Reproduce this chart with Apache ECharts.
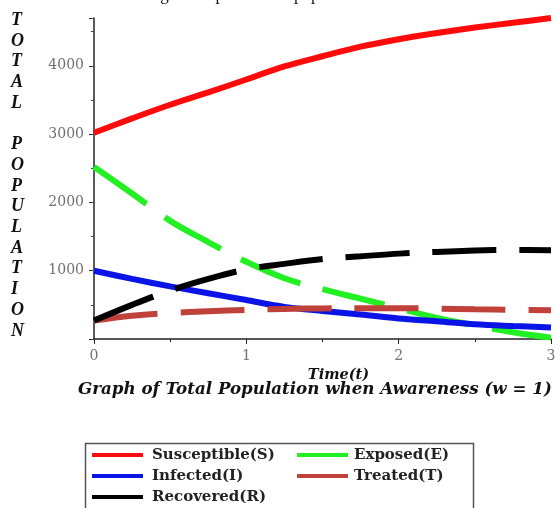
<!DOCTYPE html>
<html>
<head>
<meta charset="utf-8">
<script src="https://cdn.jsdelivr.net/npm/echarts@6/dist/echarts.min.js"></script>
<style>
  html, body { margin: 0; padding: 0; background: #fff; }
  #chart { width: 559px; height: 508px; }
</style>
</head>
<body>
<div id="chart"></div>
<script>
// Time grid (t) and compartment sizes of the awareness model, w = 1
var times = [0, 0.25, 0.5, 0.75, 1, 1.25, 1.5, 1.75, 2, 2.25, 2.5, 2.75, 3];
var susceptible = [3020, 3230, 3430, 3610, 3800, 3990, 4140, 4280, 4390, 4480, 4560, 4630, 4700];
var exposed     = [2520, 2130, 1730, 1420, 1130, 890, 730, 590, 450, 310, 200, 100, 20];
var infected    = [1000, 880, 770, 670, 570, 470, 410, 360, 300, 260, 215, 190, 170];
var treated     = [270, 340, 380, 405, 425, 440, 448, 450, 450, 445, 435, 428, 420];
var recovered   = [270, 500, 710, 880, 1020, 1100, 1170, 1210, 1250, 1275, 1295, 1305, 1300];

var seriesNames = ['Susceptible(S)', 'Exposed(E)', 'Infected(I)', 'Treated(T)', 'Recovered(R)'];

var xTicks = [0, 1, 2, 3];
var yTicks = [1000, 2000, 3000, 4000];

function pairs(vals) {
  return times.map(function (t, i) { return [t, vals[i]]; });
}

var SERIF = '"Liberation Serif", "DejaVu Serif", serif';
var WIDE_SERIF = '"DejaVu Serif", "Liberation Serif", serif';
var DASH = [64, 23];
var COLORS = ['#ff0a0a', '#22f022', '#0a14e6', '#c0403a', '#000000'];
var DASHED = [false, true, false, true, true];
var VALUES = [susceptible, exposed, infected, treated, recovered];

function lineSeries(i) {
  return {
    name: seriesNames[i],
    type: 'line',
    data: pairs(VALUES[i]),
    smooth: 0.35,
    showSymbol: false,
    symbol: 'none',
    color: COLORS[i],
    lineStyle: { color: COLORS[i], width: 6, type: DASHED[i] ? DASH : 'solid', cap: 'butt' },
    z: 3
  };
}

// Key box: two columns (S, I, R | E, T), each entry a solid swatch plus its label
var keySlots = [[0, 0], [1, 0], [0, 1], [1, 1], [0, 2]];
var keyGraphics = [];
seriesNames.forEach(function (name, i) {
  var col = keySlots[i][0], row = keySlots[i][1];
  var sx = col === 0 ? 92 : 297;
  var cy = 455 + row * 21;
  keyGraphics.push({
    type: 'rect',
    shape: { x: sx, y: cy - 2, width: 51, height: 4 },
    style: { fill: COLORS[i] },
    z: 5
  });
  keyGraphics.push({
    type: 'text',
    x: sx + (col === 0 ? 60 : 57), y: cy,
    style: {
      text: name,
      font: 'bold 15px ' + WIDE_SERIF,
      fill: '#222',
      verticalAlign: 'middle'
    },
    z: 5
  });
});

var chart = echarts.init(document.getElementById('chart'), null, { renderer: 'canvas' });

chart.setOption({
  backgroundColor: '#ffffff',
  animation: false,
  grid: { left: 94, right: 8, top: 18, bottom: 169, containLabel: false },
  xAxis: {
    type: 'value',
    min: 0, max: 3, interval: 1,
    axisLine: { show: true, lineStyle: { color: '#222', width: 1.5 } },
    axisTick: { show: true, length: 5, lineStyle: { color: '#222' } },
    minorTick: { show: true, splitNumber: 2, length: 3, lineStyle: { color: '#222' } },
    splitLine: { show: false },
    axisLabel: {
      fontFamily: WIDE_SERIF, fontSize: 14, color: '#707070', margin: 10,
      formatter: function (v) { return xTicks.indexOf(v) >= 0 ? String(v) : ''; }
    },
    name: 'Time(t)',
    nameLocation: 'middle',
    nameGap: 29,
    nameTextStyle: {
      fontFamily: WIDE_SERIF, fontSize: 14.5, fontWeight: 'bold', fontStyle: 'italic',
      color: '#111', padding: [0, 0, 0, 32]
    }
  },
  yAxis: [{
    type: 'value',
    min: 0, max: 4700, interval: 1000,
    axisLine: { show: true, lineStyle: { color: '#222', width: 1.5 } },
    axisTick: { show: true, length: 5, lineStyle: { color: '#222' } },
    splitLine: { show: false },
    axisLabel: {
      fontFamily: WIDE_SERIF, fontSize: 14, color: '#707070', margin: 10,
      formatter: function (v) { return yTicks.indexOf(v) >= 0 ? String(v) : ''; }
    }
  }, {
    type: 'value',
    position: 'left',
    min: 0, max: 4700, interval: 500,
    axisLine: { show: false },
    axisTick: { show: true, length: 3, lineStyle: { color: '#444' } },
    axisLabel: { show: false },
    splitLine: { show: false }
  }],
  graphic: [
    {
      type: 'text', left: 146, top: -13,
      style: { text: 'Fig. 3 Graph of Total population', font: '17px ' + SERIF, fill: '#111' }
    },
    {
      type: 'text', left: 11, top: 10,
      style: {
        text: 'T\nO\nT\nA\nL\n\nP\nO\nP\nU\nL\nA\nT\nI\nO\nN',
        font: 'italic bold 18px ' + SERIF,
        fill: '#111',
        lineHeight: 20.7,
        align: 'center'
      }
    },
    {
      type: 'text', left: 78, top: 381,
      style: {
        text: 'Graph of Total Population when Awareness (w = 1)',
        font: 'italic bold 16.7px ' + WIDE_SERIF,
        fill: '#111'
      }
    },
    {
      type: 'rect',
      shape: { x: 85.5, y: 443.5, width: 388, height: 70 },
      style: { fill: 'none', stroke: '#555', lineWidth: 1.5 },
      z: 0
    }
  ].concat(keyGraphics),
  series: seriesNames.map(function (n, i) { return lineSeries(i); })
});
</script>
</body>
</html>
